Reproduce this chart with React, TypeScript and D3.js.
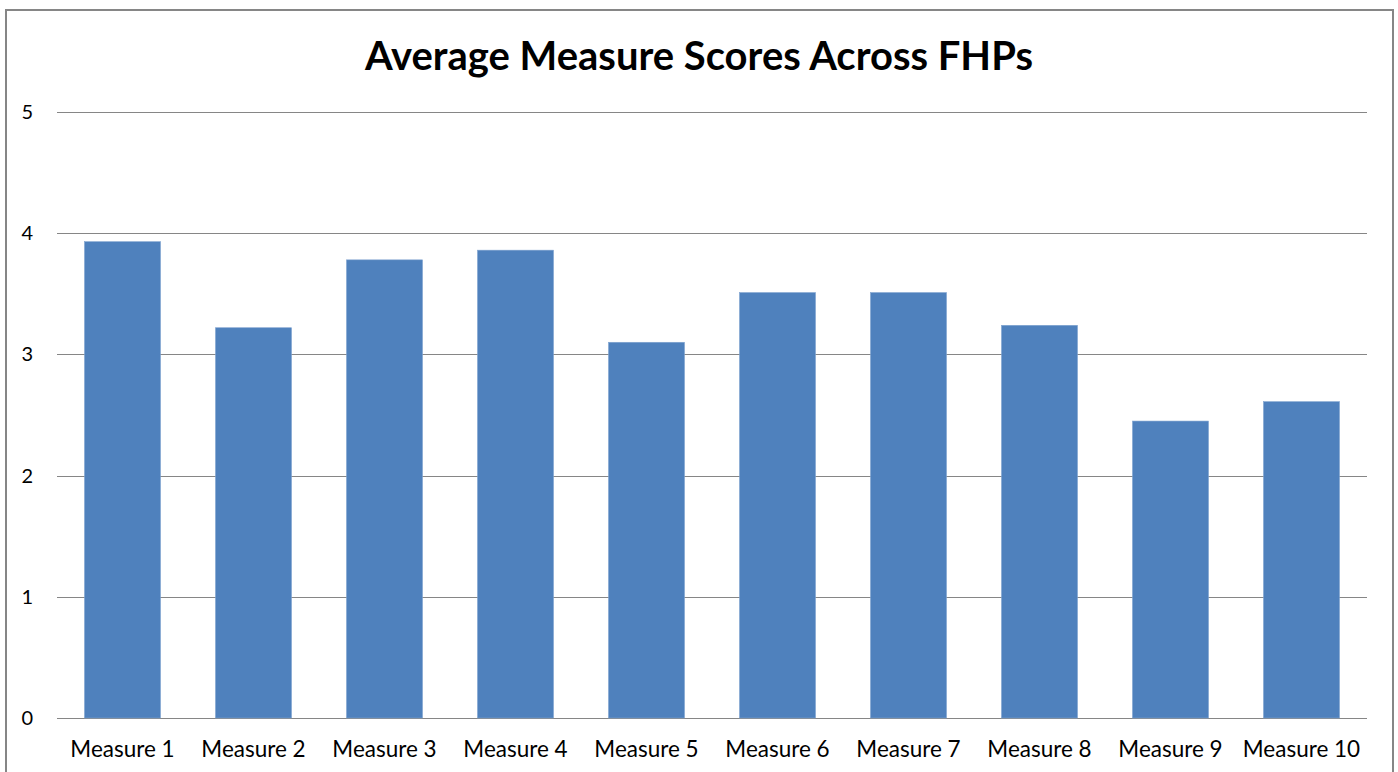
import React from "react";
import * as d3 from "d3";

const categories = [
  "Measure 1", "Measure 2", "Measure 3", "Measure 4", "Measure 5",
  "Measure 6", "Measure 7", "Measure 8", "Measure 9", "Measure 10",
];
const scores = [3.93, 3.22, 3.78, 3.86, 3.1, 3.51, 3.51, 3.24, 2.45, 2.61];
const yTicks = [0, 1, 2, 3, 4, 5];
const title = "Average Measure Scores Across FHPs";

const W = 1398;
const H = 772;
const FONT = "Lato, 'Open Sans', sans-serif";

export default function App() {
  // plot area
  const margin = { top: 112, right: 31, bottom: 54, left: 57 };
  const x = d3.scaleBand<string>()
    .domain(categories)
    .range([margin.left, W - margin.right])
    .paddingInner(0.42)
    .paddingOuter(0.21);
  const y = d3.scaleLinear().domain([0, 5]).range([H - margin.bottom, margin.top]);

  return (
    <svg
      width={W}
      height={H}
      style={{ position: "absolute", left: 0, top: 0, display: "block", background: "#fff" }}
      fontFamily={FONT}
    >
      {/* chart border */}
      <rect x={6} y={10} width={1387} height={770} fill="#fff" stroke="#868686" strokeWidth={2} />

      <text
        x={699}
        y={70}
        textAnchor="middle"
        fontSize={40}
        fontWeight="bold"
        fill="#000"
        textLength={668}
        lengthAdjust="spacingAndGlyphs"
      >
        {title}
      </text>

      {/* gridlines */}
      {yTicks.map(t => (
        <g key={t}>
          <line
            x1={margin.left}
            x2={W - margin.right}
            y1={Math.round(y(t)) + 0.5}
            y2={Math.round(y(t)) + 0.5}
            stroke="#868686"
            strokeWidth={1.2}
          />
          <text x={33} y={y(t)} dy="0.35em" textAnchor="end" fontSize={20} fill="#000">
            {t}
          </text>
        </g>
      ))}

      {/* bars */}
      {categories.map((c, i) => (
        <rect
          key={c}
          x={x(c)}
          y={y(scores[i])}
          width={x.bandwidth()}
          height={y(0) - y(scores[i])}
          fill="#4F81BD"
          stroke="#7FA3CF"
          strokeWidth={0.6}
        />
      ))}

      {/* x labels */}
      {categories.map(c => (
        <text
          key={c}
          x={(x(c) as number) + x.bandwidth() / 2}
          y={757}
          textAnchor="middle"
          fontSize={22.5}
          fill="#000"
        >
          {c}
        </text>
      ))}
    </svg>
  );
}
